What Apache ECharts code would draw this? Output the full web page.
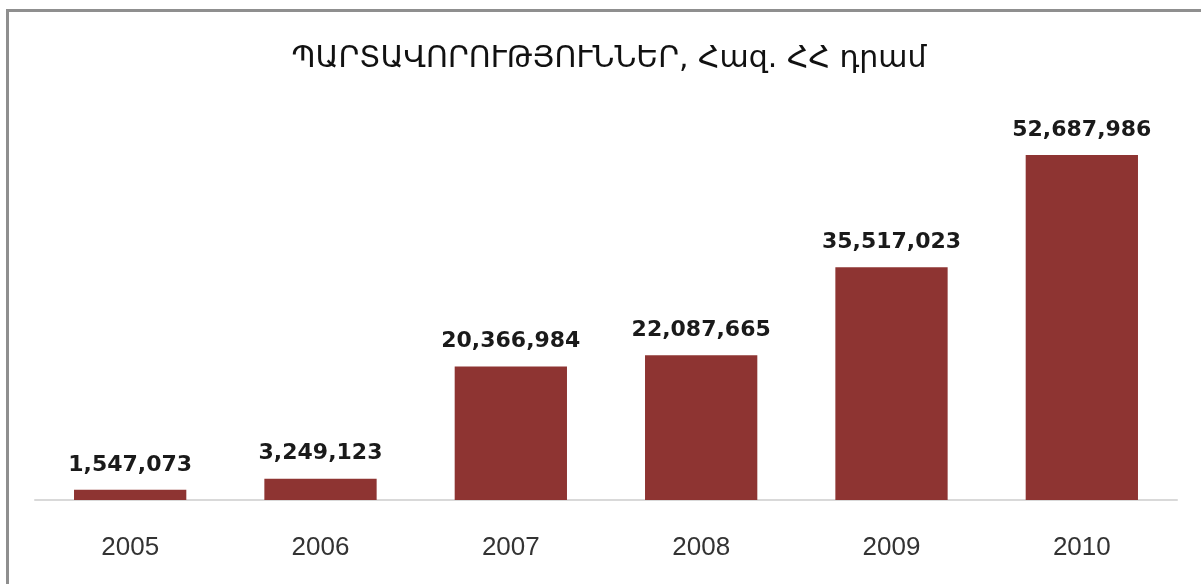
<!DOCTYPE html>
<html>
<head>
<meta charset="utf-8">
<script src="https://cdn.jsdelivr.net/npm/echarts@6/dist/echarts.min.js"></script>
<style>
  html, body { margin: 0; padding: 0; background: #fff; }
  #chart { width: 1201px; height: 584px; position: absolute; left: 0; top: 0; }
  #frame { position: absolute; left: 6px; top: 9px; width: 1195px; height: 575px;
           border-top: 3px solid #8f8f8f; border-left: 3px solid #8f8f8f; box-sizing: border-box; pointer-events: none; }
</style>
</head>
<body>
<div id="chart"></div>
<div id="frame"></div>
<script>
const titleText = 'ՊԱՐՏԱՎՈՐՈՒԹՅՈՒՆՆԵՐ, Հազ. ՀՀ դրամ';
const years = ['2005', '2006', '2007', '2008', '2009', '2010'];
const debts = [1547073, 3249123, 20366984, 22087665, 35517023, 52687986];

const chart = echarts.init(document.getElementById('chart'));
chart.setOption({
  backgroundColor: '#ffffff',
  animation: false,
  title: {
    text: titleText,
    left: 604,
    textAlign: 'center',
    top: 39,
    textStyle: { fontFamily: 'DejaVu Sans', fontSize: 30, fontWeight: 'normal', color: '#111' }
  },
  grid: { left: 35, right: 24, top: 107, bottom: 84 },
  xAxis: {
    type: 'category',
    data: years,
    axisTick: { show: false },
    axisLine: { lineStyle: { color: '#d9d9d9', width: 2 } },
    axisLabel: { margin: 35, fontFamily: 'Liberation Sans', fontSize: 26, color: '#333' }
  },
  yAxis: {
    type: 'value',
    min: 0,
    max: 60000000,
    show: false,
    splitLine: { show: false }
  },
  series: [{
    type: 'bar',
    data: debts,
    barWidth: '59%',
    itemStyle: { color: '#8e3432' },
    label: {
      show: true,
      position: 'top',
      distance: 14,
      fontFamily: 'DejaVu Sans',
      fontWeight: 'bold',
      fontSize: 22,
      color: '#1a1a1a',
      formatter: p => p.value.toLocaleString('en-US')
    }
  }]
});
</script>
</body>
</html>
